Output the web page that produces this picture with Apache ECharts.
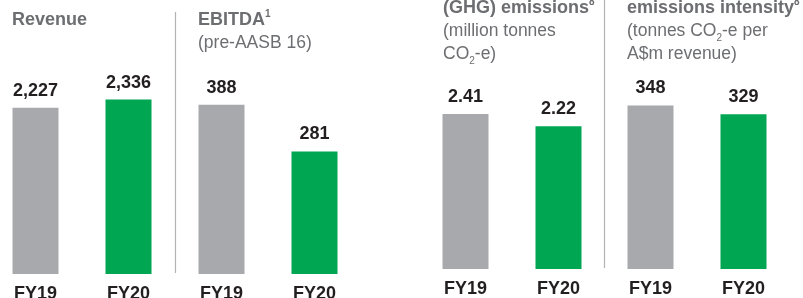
<!DOCTYPE html>
<html>
<head>
<meta charset="utf-8">
<script src="https://cdn.jsdelivr.net/npm/echarts@6/dist/echarts.min.js"></script>
<style>
  html, body { margin: 0; padding: 0; background: #fff; }
  #chart { width: 803px; height: 298px; }
</style>
</head>
<body>
<div id="chart"></div>
<script>
// data
var categories = ['FY19', 'FY20'];
var revenue = [2227, 2336];
var ebitda = [388, 281];
var ghgEmissions = [2.41, 2.22];
var ghgIntensity = [348, 329];

var GREY = '#a7a9ac', GREEN = '#00a651';
var TITLE = '#6d6e71', INK = '#231f20';
var FONT = '"Liberation Sans", Arial, Helvetica, sans-serif';

var chart = echarts.init(document.getElementById('chart'));

// one small panel per metric
var panels = [
  { data: revenue, max: 3000, left: -11, top: 50, height: 224, fmt: function (v) { return v.toLocaleString('en-US'); } },
  { data: ebitda, max: 500, left: 175, top: 56, height: 218, fmt: function (v) { return String(v); } },
  { data: ghgEmissions, max: 3, left: 419, top: 76, height: 193, fmt: function (v) { return v.toFixed(2); } },
  { data: ghgIntensity, max: 400, left: 604, top: 81, height: 188, fmt: function (v) { return String(v); } }
];

var rich = {
  b: { fontFamily: FONT, fontWeight: 'bold', fontSize: 18, color: TITLE, lineHeight: 23 },
  sup: { fontFamily: FONT, fontWeight: 'bold', fontSize: 10, color: TITLE, verticalAlign: 'top', lineHeight: 23 },
  r: { fontFamily: FONT, fontWeight: 'normal', fontSize: 17.5, color: TITLE, lineHeight: 23 },
  sub: { fontFamily: FONT, fontWeight: 'normal', fontSize: 10, color: TITLE, verticalAlign: 'bottom', lineHeight: 20 }
};

function makeTitle(text, left, top) {
  return { text: text, left: left, top: top, padding: 0, textStyle: { fontWeight: 'normal', rich: rich } };
}

var option = {
  animation: false,
  textStyle: { fontFamily: FONT },
  title: [
    makeTitle('{b|Revenue}', 12, 9),
    makeTitle('{b|EBITDA}{sup|1}\n{r|(pre-AASB 16)}', 198, 9),
    makeTitle('{b|(GHG) emissions}{sup|8}\n{r|(million tonnes}\n{r|CO}{sub|2}{r|-e)}', 443, -3),
    makeTitle('{b|emissions intensity}{sup|8}\n{r|(tonnes CO}{sub|2}{r|-e per}\n{r|A$m revenue)}', 627, -3)
  ],
  grid: panels.map(function (p) {
    return { left: p.left, top: p.top, width: 186, height: p.height, outerBoundsMode: 'none', containLabel: false };
  }),
  xAxis: panels.map(function (p, i) {
    return {
      type: 'category', gridIndex: i, data: categories,
      axisLine: { show: false }, axisTick: { show: false },
      axisLabel: { color: INK, fontWeight: 'bold', fontSize: 18, fontFamily: FONT, margin: 11 }
    };
  }),
  yAxis: panels.map(function (p, i) {
    return { type: 'value', gridIndex: i, min: 0, max: p.max, show: false, splitLine: { show: false } };
  }),
  series: panels.map(function (p, i) {
    return {
      type: 'bar', xAxisIndex: i, yAxisIndex: i, barWidth: 46,
      data: p.data.map(function (v, j) {
        return { value: v, itemStyle: { color: j === 0 ? GREY : GREEN } };
      }),
      label: {
        show: true, position: 'top', distance: 8,
        color: INK, fontWeight: 'bold', fontSize: 18, fontFamily: FONT,
        formatter: function (d) { return p.fmt(d.value); }
      }
    };
  }),
  graphic: [
    { type: 'line', shape: { x1: 175.5, y1: 12, x2: 175.5, y2: 273 }, style: { stroke: '#b3b3b3', lineWidth: 1.2 } },
    { type: 'line', shape: { x1: 604.5, y1: 0, x2: 604.5, y2: 268 }, style: { stroke: '#b3b3b3', lineWidth: 1.2 } }
  ]
};

chart.setOption(option);
</script>
</body>
</html>
